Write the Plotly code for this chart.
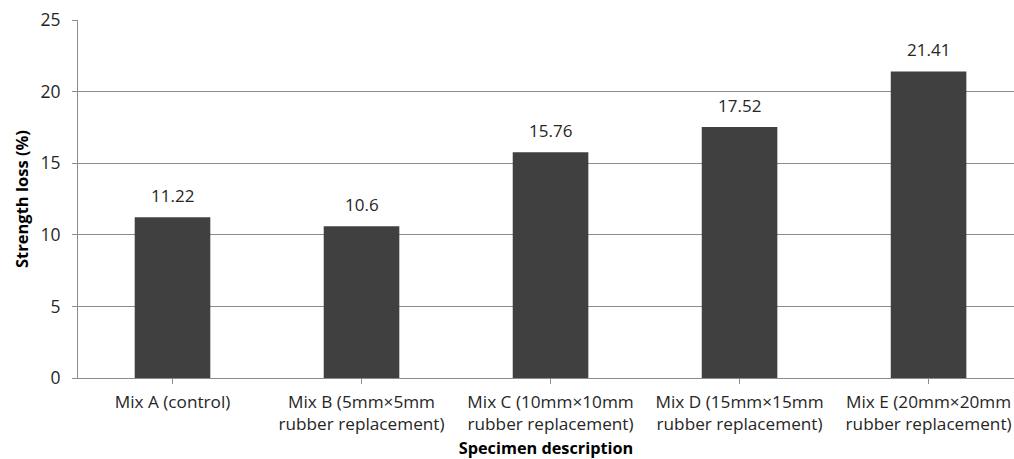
import plotly.graph_objects as go

categories = [
    "Mix A (control)",
    "Mix B (5mm×5mm<br>rubber replacement)",
    "Mix C (10mm×10mm<br>rubber replacement)",
    "Mix D (15mm×15mm<br>rubber replacement)",
    "Mix E (20mm×20mm<br>rubber replacement)",
]
strength_loss = [11.22, 10.6, 15.76, 17.52, 21.41]
value_labels = ["11.22", "10.6", "15.76", "17.52", "21.41"]
y_ticks = [0, 5, 10, 15, 20, 25]

FONT = "Open Sans, Noto Sans, sans-serif"
GRID = "#8c8c8c"
TXT = "#262626"

fig = go.Figure()
fig.add_trace(go.Bar(
    x=list(range(len(categories))),
    y=strength_loss,
    width=0.40,
    marker=dict(color="#404040", line=dict(width=0)),
    hoverinfo="skip",
))

for i, (v, lab) in enumerate(zip(strength_loss, value_labels)):
    fig.add_annotation(
        x=i, y=v, text=lab, showarrow=False,
        yanchor="bottom", yshift=8,
        font=dict(family=FONT, size=17, color=TXT),
    )

fig.update_layout(
    width=1014, height=459,
    margin=dict(l=78, r=0, t=20, b=81, autoexpand=False),
    paper_bgcolor="white", plot_bgcolor="white",
    showlegend=False,
    font=dict(family=FONT, size=17, color=TXT),
    bargap=0.6,
)

fig.update_xaxes(
    tickmode="array",
    tickvals=list(range(len(categories))),
    ticktext=categories,
    range=[-0.5, 4.452],
    tickson="boundaries",
    ticks="outside", ticklen=5, tickcolor=GRID, tickwidth=1,
    showline=True, linecolor=GRID, linewidth=1,
    showgrid=False, zeroline=False,
    automargin=False,
    ticklabelstandoff=3,
    tickfont=dict(family=FONT, size=17.2, color=TXT),
    title=dict(text="<b>Specimen description</b>",
               font=dict(family=FONT, size=16.3, color="#000000"),
               standoff=10),
)

fig.update_yaxes(
    range=[0, 25],
    tickmode="array", tickvals=y_ticks,
    ticks="outside", ticklen=5, tickcolor=GRID, tickwidth=1,
    showline=True, linecolor=GRID, linewidth=1,
    showgrid=True, gridcolor=GRID, gridwidth=1,
    zeroline=False,
    automargin=False,
    ticklabelstandoff=8,
    tickfont=dict(family=FONT, size=17.5, color=TXT),
    title=dict(text="<b>Strength loss (%)</b>",
               font=dict(family=FONT, size=16.5, color="#000000"),
               standoff=7),
)

fig.write_html("out.html")
